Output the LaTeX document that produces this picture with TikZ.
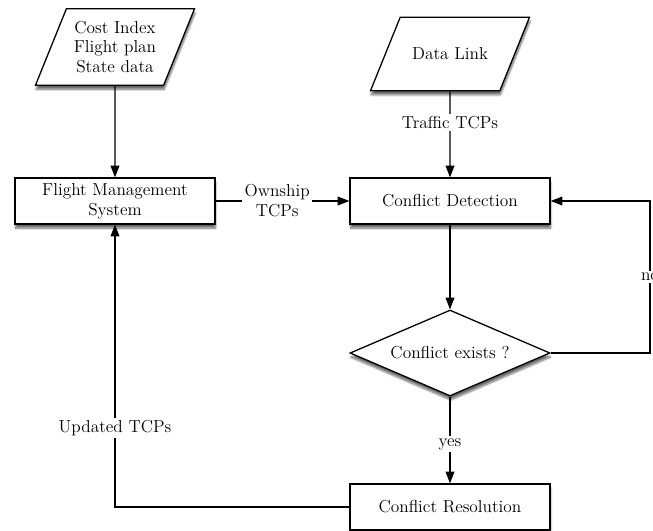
\documentclass[tikz,border=0pt]{standalone}
\usetikzlibrary{shapes.geometric,arrows.meta,shadows.blur}
\tikzset{
  every node/.style={font=\fontsize{14.8}{17}\selectfont, align=center},
  shade/.style={blur shadow={shadow xshift=0.5pt, shadow yshift=-3.5pt, shadow blur steps=8, shadow opacity=60}},
  datain/.style={trapezium, trapezium left angle=68, trapezium right angle=112,
    trapezium stretches body=true, draw, line width=1.1pt, fill=white, shade,
    minimum width=4.77cm, inner xsep=0pt},
  block/.style={rectangle, draw, line width=1.1pt, fill=white, shade,
    minimum width=6cm, minimum height=1.38cm, inner sep=0pt},
  decision/.style={diamond, aspect=2.33, draw, line width=1.1pt, fill=white, shade,
    minimum width=6cm, minimum height=2.58cm, inner sep=0pt},
  lbl/.style={fill=white, inner sep=2pt},
  arrow/.style={-{Triangle[length=10pt,width=7.5pt]}, line width=0.9pt}
}
\begin{document}
\begin{tikzpicture}[x=0.03cm, y=-0.03cm]
  \useasboundingbox (0,0) rectangle (653,530);
  % inputs
  \node[datain, inner ysep=0.36cm] (costin) at (115,47) {Cost Index\\Flight plan\\State data};
  \node[datain, inner ysep=0.92cm] (datalink) at (450,54) {Data Link};
  % main blocks
  \node[block] (fms) at (115,201) {Flight Management\\System};
  \node[block] (detect) at (450,201) {Conflict Detection};
  \node[decision] (exists) at (450,353) {Conflict exists ?};
  \node[block] (resolve) at (450,507) {Conflict Resolution};
  \coordinate (noturn) at (650,353);
  % flows
  \draw[arrow] (costin) -- (fms);
  \draw[arrow] (fms) -- node[lbl, pos=0.46]{Ownship\\TCPs} (detect);
  \draw[arrow] (datalink) -- node[lbl, pos=0.36]{Traffic TCPs} (detect);
  \draw[arrow] (detect) -- (exists);
  \draw[arrow] (exists) -- node[lbl, pos=0.55]{yes} (resolve);
  \draw[arrow] (exists) -- (noturn) |- node[lbl, pos=0.25]{no} (detect);
  \draw[arrow] (resolve) -| node[lbl, pos=0.64]{Updated TCPs} (fms);
\end{tikzpicture}
\end{document}
